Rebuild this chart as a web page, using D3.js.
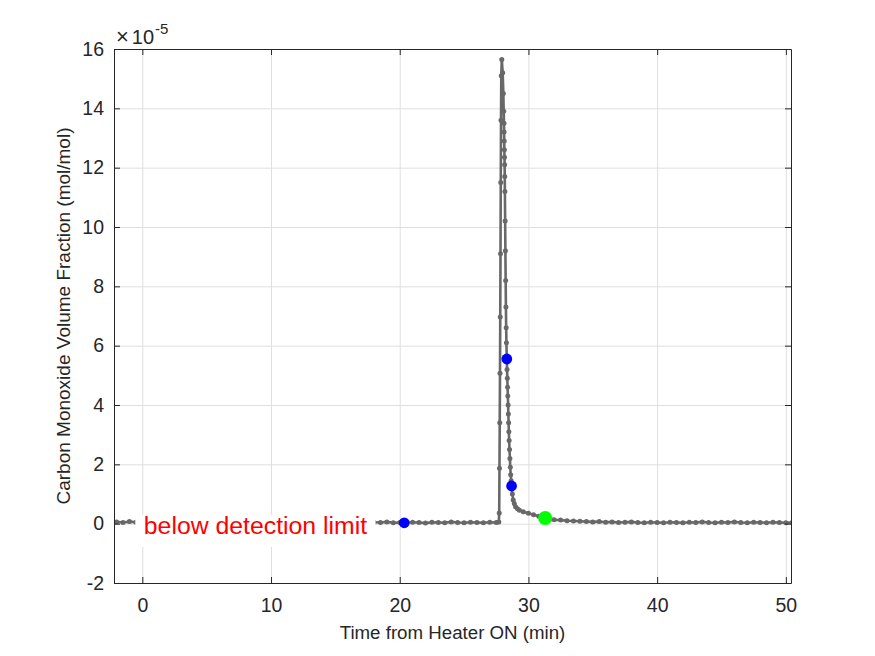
<!DOCTYPE html>
<html>
<head>
<meta charset="utf-8">
<script src="https://cdn.jsdelivr.net/npm/d3@7"></script>
<style>
    body { margin: 0; background: #fff; }
    text { font-family: "Liberation Sans", Arial, Helvetica, sans-serif; fill: #262626; }
</style>
</head>
<body>
<div id="chart"></div>
<script>
// CO volume fraction, values in units of 1e-5 mol/mol
var baseTimes = [-2.5, -2.0, -1.5, -1.0, -0.5, 0, 0.5, 1, 1.5, 2, 2.5, 3, 3.5, 4, 4.5, 5, 5.5, 6, 6.5, 7, 7.5, 8, 8.5, 9, 9.5,
    10, 10.5, 11, 11.5, 12, 12.5, 13, 13.5, 14, 14.5, 15, 15.5, 16, 16.5, 17, 17.5, 18, 18.5, 19, 19.5,
    20, 20.5, 21, 21.5, 22, 22.5, 23, 23.5, 24, 24.5, 25, 25.5, 26, 26.5, 27, 27.5, 27.7];
var baseValues = [0.05, 0.06, 0.04, 0.07, 0.05, 0.05, 0.04, 0.06, 0.03, 0.05, 0.06, 0.04, 0.05, 0.03, 0.06, 0.05, 0.04, 0.06, 0.05, 0.03, 0.05, 0.06, 0.04, 0.05, 0.03,
    0.06, 0.05, 0.04, 0.06, 0.05, 0.03, 0.04, 0.06, 0.05, 0.04, 0.05, 0.06, 0.03, 0.05, 0.04, 0.06, 0.05, 0.04, 0.06, 0.03,
    0.04, 0.03, 0.05, 0.04, 0.02, 0.05, 0.04, 0.03, 0.06, 0.04, 0.03, 0.05, 0.04, 0.03, 0.05, 0.04, 0.06];

var peakTimes = [27.73, 27.75, 27.77, 27.79, 27.81, 27.83, 27.85, 27.87, 27.89, 27.93,
    28.0, 28.05, 28.08, 28.10, 28.11, 28.12, 28.13, 28.14, 28.15, 28.16, 28.17, 28.19, 28.21, 28.23, 28.25, 28.27, 28.29, 28.32,
    28.34, 28.36, 28.38, 28.40, 28.42, 28.44, 28.46, 28.48, 28.50, 28.53, 28.56, 28.59, 28.62, 28.66, 28.69,
    28.75, 28.82, 28.9, 29.0, 29.15, 29.3, 29.6, 30.0, 30.4, 30.8, 31.3, 31.7];
var peakValues = [0.36, 1.87, 3.4, 5.07, 6.97, 9.1, 11.5, 13.6, 15.1, 15.65,
    15.2, 14.5, 13.9, 13.5, 13.2, 12.9, 12.6, 12.35, 12.1, 11.7, 11.2, 10.2, 9.2, 8.2, 7.3, 6.6, 6.1, 5.55,
    5.2, 4.9, 4.6, 4.3, 4.0, 3.7, 3.4, 3.1, 2.8, 2.5, 2.2, 1.9, 1.65, 1.45, 1.27,
    1.0, 0.8, 0.68, 0.57, 0.5, 0.45, 0.4, 0.35, 0.3, 0.25, 0.19, 0.16];

var tailTimes = [32, 32.5, 33, 33.5, 34, 34.5, 35, 35.5, 36, 36.5, 37, 37.5, 38, 38.5, 39, 39.5, 40, 40.5, 41, 41.5,
    42, 42.5, 43, 43.5, 44, 44.5, 45, 45.5, 46, 46.5, 47, 47.5, 48, 48.5, 49, 49.5, 50, 50.5];
var tailValues = [0.13, 0.12, 0.10, 0.09, 0.08, 0.07, 0.06, 0.07, 0.05, 0.06, 0.04, 0.05, 0.06, 0.04, 0.03, 0.05, 0.04, 0.03, 0.05, 0.04,
    0.03, 0.05, 0.04, 0.06, 0.04, 0.03, 0.05, 0.04, 0.06, 0.04, 0.03, 0.05, 0.04, 0.03, 0.05, 0.04, 0.03, 0.04];

// highlighted points
var blueTimes = [20.35, 28.32, 28.69];
var blueValues = [0.03, 5.55, 1.27];
var greenTimes = [0, 31.3];
var greenValues = [0.05, 0.19];

var xTicks = [0, 10, 20, 30, 40, 50];
var yTicks = [-2, 0, 2, 4, 6, 8, 10, 12, 14, 16];
var xDomain = [-2.2, 50.4];
var yDomain = [-2, 16];

var margin = {top: 49, right: 84, bottom: 73, left: 114};
var width = 875 - margin.left - margin.right;
var height = 656 - margin.top - margin.bottom;

var series = d3.zip(baseTimes.concat(peakTimes, tailTimes), baseValues.concat(peakValues, tailValues))
    .map(function(d) { return {t: d[0], v: d[1]}; });

var svg = d3.select("#chart").append("svg")
    .attr("width", 875)
    .attr("height", 656)
    .append("g")
    .attr("transform", "translate(" + margin.left + "," + margin.top + ")");

var x = d3.scaleLinear().domain(xDomain).range([0, width]);
var y = d3.scaleLinear().domain(yDomain).range([height, 0]);

svg.append("clipPath").attr("id", "clip")
    .append("rect").attr("width", width).attr("height", height);

// grid
svg.append("g")
    .attr("class", "grid")
    .attr("transform", "translate(0," + height + ")")
    .call(d3.axisBottom(x).tickValues(xTicks).tickSize(-height).tickFormat(""))
    .call(function(g) { g.select(".domain").remove(); })
    .selectAll("line").attr("stroke", "#dfdfdf");
svg.append("g")
    .attr("class", "grid")
    .call(d3.axisLeft(y).tickValues(yTicks).tickSize(-width).tickFormat(""))
    .call(function(g) { g.select(".domain").remove(); })
    .selectAll("line").attr("stroke", "#dfdfdf");

// data line + markers
var plot = svg.append("g").attr("clip-path", "url(#clip)");

plot.append("path")
    .datum(series)
    .attr("fill", "none")
    .attr("stroke", "#686868")
    .attr("stroke-width", 2.6)
    .attr("d", d3.line().x(function(d) { return x(d.t); }).y(function(d) { return y(d.v); }));

plot.selectAll(".dot")
    .data(series)
    .enter().append("circle")
    .attr("class", "dot")
    .attr("r", 2.5)
    .attr("fill", "#686868")
    .attr("cx", function(d) { return x(d.t); })
    .attr("cy", function(d) { return y(d.v); });

plot.selectAll(".green")
    .data(d3.zip(greenTimes, greenValues))
    .enter().append("circle")
    .attr("r", 7)
    .attr("fill", "#00ff00")
    .attr("cx", function(d) { return x(d[0]); })
    .attr("cy", function(d) { return y(d[1]); });

plot.selectAll(".blue")
    .data(d3.zip(blueTimes, blueValues))
    .enter().append("circle")
    .attr("r", 5.4)
    .attr("fill", "#0000ff")
    .attr("cx", function(d) { return x(d[0]); })
    .attr("cy", function(d) { return y(d[1]); });

// annotation with white background
var note = svg.append("g");
var noteBox = note.append("rect").attr("fill", "#fff");
var noteText = note.append("text")
    .attr("x", x(0) + 1.5)
    .attr("y", y(0) + 10.6)
    .style("font-size", "24.8px")
    .style("fill", "#ff0000")
    .text("below detection limit");
var len = noteText.node().getComputedTextLength();
noteBox.attr("x", x(0) - 7)
    .attr("y", y(0) - 8.7)
    .attr("width", len + 17)
    .attr("height", 32);

// axes (ticks point inward, box on)
var plainNum = function(d) { return String(d); }; // keep a plain hyphen for negatives

function styleAxis(g) {
    g.select(".domain").attr("stroke", "#262626");
    g.selectAll(".tick line").attr("stroke", "#262626");
    g.selectAll(".tick text").style("font-size", "19.5px").attr("fill", "#262626");
}
svg.append("g")
    .attr("transform", "translate(0," + height + ")")
    .call(d3.axisBottom(x).tickValues(xTicks).tickFormat(plainNum).tickSizeInner(-6).tickSizeOuter(0).tickPadding(15))
    .call(styleAxis);
svg.append("g")
    .call(d3.axisTop(x).tickValues(xTicks).tickSizeInner(-6).tickSizeOuter(0).tickFormat(""))
    .call(styleAxis);
svg.append("g")
    .call(d3.axisLeft(y).tickValues(yTicks).tickFormat(plainNum).tickSizeInner(-6).tickSizeOuter(0).tickPadding(10))
    .call(styleAxis);
svg.append("g")
    .attr("transform", "translate(" + width + ",0)")
    .call(d3.axisRight(y).tickValues(yTicks).tickSizeInner(-6).tickSizeOuter(0).tickFormat(""))
    .call(styleAxis);

// exponent label
var expo = svg.append("text")
    .attr("x", 2)
    .attr("y", -5);
expo.append("tspan").style("font-size", "22px").text("\u00d7");
expo.append("tspan").attr("dx", 3).style("font-size", "20px").text("10");
expo.append("tspan").attr("dx", 1).attr("dy", -10).style("font-size", "15px").text("-5");

// axis labels
svg.append("text")
    .attr("text-anchor", "middle")
    .attr("x", width / 2)
    .attr("y", height + 56)
    .style("font-size", "18.7px")
    .text("Time from Heater ON (min)");

svg.append("text")
    .attr("text-anchor", "middle")
    .attr("transform", "translate(" + -44 + "," + (height / 2) + ")rotate(-90)")
    .style("font-size", "19px")
    .text("Carbon Monoxide Volume Fraction (mol/mol)");
</script>
</body>
</html>
